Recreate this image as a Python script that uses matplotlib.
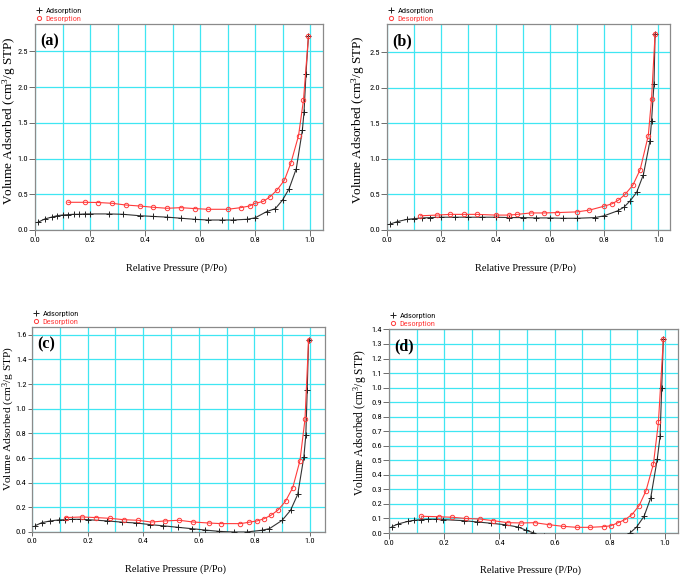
import matplotlib
matplotlib.use("Agg")
import matplotlib.pyplot as plt
from matplotlib.lines import Line2D
from matplotlib.ticker import MultipleLocator, FormatStrFormatter
from matplotlib import font_manager as fm

# ---------------- data ----------------
ads_a_x = [0.01, 0.036, 0.06, 0.08, 0.10, 0.12, 0.14, 0.16, 0.18, 0.20, 0.27, 0.32, 0.38, 0.43, 0.48,
           0.53, 0.58, 0.63, 0.68, 0.72, 0.77, 0.80, 0.842, 0.874, 0.90, 0.924, 0.95, 0.972, 0.978, 0.985, 0.994]
ads_a_y = [0.107, 0.155, 0.18, 0.20, 0.21, 0.215, 0.22, 0.22, 0.225, 0.225, 0.225, 0.22, 0.20, 0.19, 0.18,
           0.165, 0.15, 0.14, 0.14, 0.14, 0.15, 0.17, 0.257, 0.30, 0.42, 0.58, 0.86, 1.40, 1.65, 2.18, 2.71]
des_a_x = [0.12, 0.18, 0.23, 0.28, 0.33, 0.38, 0.43, 0.48, 0.53, 0.58, 0.63, 0.70, 0.748, 0.78, 0.80,
           0.83, 0.855, 0.88, 0.907, 0.93, 0.958, 0.976, 0.994]
des_a_y = [0.388, 0.388, 0.385, 0.374, 0.35, 0.336, 0.318, 0.304, 0.313, 0.30, 0.29, 0.29, 0.313, 0.336,
           0.374, 0.40, 0.467, 0.56, 0.70, 0.935, 1.32, 1.82, 2.71]

ads_b_x = [0.012, 0.037, 0.074, 0.10, 0.13, 0.16, 0.20, 0.25, 0.30, 0.35, 0.40, 0.45, 0.50, 0.55, 0.60,
           0.65, 0.70, 0.767, 0.80, 0.85, 0.873, 0.896, 0.92, 0.945, 0.969, 0.975, 0.984, 0.988]
ads_b_y = [0.084, 0.117, 0.15, 0.16, 0.17, 0.175, 0.18, 0.18, 0.18, 0.18, 0.18, 0.175, 0.175, 0.17, 0.17,
           0.165, 0.165, 0.175, 0.20, 0.27, 0.32, 0.41, 0.53, 0.78, 1.25, 1.54, 2.06, 2.76]
des_b_x = [0.123, 0.184, 0.233, 0.282, 0.33, 0.40, 0.45, 0.48, 0.53, 0.577, 0.626, 0.70, 0.746, 0.80,
           0.83, 0.853, 0.877, 0.906, 0.933, 0.963, 0.975, 0.988]
des_b_y = [0.20, 0.21, 0.22, 0.22, 0.22, 0.21, 0.21, 0.22, 0.24, 0.24, 0.245, 0.255, 0.28, 0.335,
           0.37, 0.42, 0.50, 0.63, 0.85, 1.33, 1.85, 2.76]

ads_c_x = [0.012, 0.036, 0.066, 0.096, 0.12, 0.144, 0.174, 0.20, 0.27, 0.323, 0.375, 0.425, 0.473, 0.525,
           0.575, 0.623, 0.674, 0.725, 0.772, 0.826, 0.854, 0.90, 0.93, 0.956, 0.978, 0.985, 0.99, 0.995]
ads_c_y = [0.052, 0.076, 0.09, 0.098, 0.10, 0.103, 0.103, 0.10, 0.09, 0.08, 0.073, 0.06, 0.05, 0.038,
           0.027, 0.016, 0.005, 0.0, 0.0, 0.014, 0.027, 0.095, 0.176, 0.306, 0.61, 0.786, 1.15, 1.56]
des_c_x = [0.121, 0.18, 0.23, 0.28, 0.33, 0.38, 0.43, 0.48, 0.53, 0.58, 0.635, 0.68, 0.75, 0.78, 0.81,
           0.835, 0.86, 0.886, 0.912, 0.938, 0.964, 0.982, 0.995]
des_c_y = [0.117, 0.122, 0.117, 0.111, 0.10, 0.095, 0.081, 0.09, 0.095, 0.081, 0.073, 0.068, 0.068,
           0.079, 0.09, 0.108, 0.136, 0.18, 0.25, 0.36, 0.58, 0.914, 1.56]

ads_d_x = [0.011, 0.033, 0.069, 0.09, 0.117, 0.14, 0.17, 0.196, 0.27, 0.32, 0.37, 0.42, 0.468, 0.498,
           0.52, 0.56, 0.65, 0.75, 0.84, 0.873, 0.897, 0.924, 0.948, 0.972, 0.982, 0.988, 0.994]
ads_d_y = [0.044, 0.062, 0.08, 0.087, 0.092, 0.094, 0.094, 0.092, 0.085, 0.076, 0.067, 0.057, 0.041,
           0.018, 0.003, -0.02, -0.06, -0.07, -0.04, 0.0, 0.041, 0.115, 0.24, 0.51, 0.665, 1.0, 1.336]
des_d_x = [0.117, 0.18, 0.23, 0.278, 0.33, 0.377, 0.43, 0.48, 0.528, 0.58, 0.63, 0.68, 0.728, 0.78,
           0.804, 0.828, 0.855, 0.88, 0.906, 0.931, 0.958, 0.976, 0.994]
des_d_y = [0.115, 0.112, 0.108, 0.10, 0.096, 0.085, 0.071, 0.069, 0.071, 0.057, 0.046, 0.039, 0.039,
           0.044, 0.05, 0.069, 0.092, 0.126, 0.188, 0.29, 0.475, 0.76, 1.336]

panel_labels = ["(a)", "(b)", "(c)", "(d)"]
legend_labels = ["Adsorption", "Desorption"]
xlabel_text = "Relative Pressure (P/Po)"
ylabel_text = "Volume Adsorbed (cm$^3$/g STP)"

# ---------------- fonts ----------------
_names = {f.name for f in fm.fontManager.ttflist}
_narrow = [n for n in ["Liberation Sans Narrow", "Arial Narrow", "DejaVu Sans Condensed",
                       "Roboto Condensed", "Open Sans Condensed"] if n in _names]
tick_font = _narrow[:1] + ["Liberation Sans", "DejaVu Sans"]
serif = ["Liberation Serif", "DejaVu Serif"]
plt.rcParams["mathtext.fontset"] = "custom"
plt.rcParams["mathtext.rm"] = "Liberation Serif"
plt.rcParams["mathtext.it"] = "Liberation Serif:italic"

# ---------------- layout ----------------
W, H = 685, 578
fig = plt.figure(figsize=(W / 100, H / 100), dpi=100)

def rect(l, t, r, b):
    return [l / W, 1 - b / H, (r - l) / W, (b - t) / H]

panels = [
    dict(r=rect(35, 24, 323, 230), xmax=1.047, ymax=2.885, ystep=0.5, ylx=-0.06, yly=0.53, yfs=9.5, tl=4,
         ax_=ads_a_x, ay=ads_a_y, dx=des_a_x, dy=des_a_y),
    dict(r=rect(387, 24, 670, 230), xmax=1.043, ymax=2.90, ystep=0.5, ylx=-0.07, yly=0.536, yfs=9.5, tl=4,
         ax_=ads_b_x, ay=ads_b_y, dx=des_b_x, dy=des_b_y),
    dict(r=rect(32, 327, 325, 532), xmax=1.054, ymax=1.663, ystep=0.2, ylx=-0.052, yly=0.556, yfs=8.2, tl=3,
         ax_=ads_c_x, ay=ads_c_y, dx=des_c_x, dy=des_c_y),
    dict(r=rect(389, 329, 678, 533), xmax=1.047, ymax=1.403, ystep=0.1, ylx=-0.07, yly=0.54, yfs=8.3, tl=4,
         ax_=ads_d_x, ay=ads_d_y, dx=des_d_x, dy=des_d_y),
]

grid_c = "#3fe6f2"
red = "#ff3b3b"

for i, p in enumerate(panels):
    ax = fig.add_axes(p["r"])
    ax.plot(p["ax_"], p["ay"], color="#333333", lw=0.8, marker="+", ms=4.5, mew=0.7,
            mec="#222222", zorder=3)
    ax.plot(p["dx"], p["dy"], color=red, lw=0.8, marker="o", ms=3.2, mew=0.7,
            mfc="none", mec=red, zorder=4)
    ax.set_xlim(0, p["xmax"])
    ax.set_ylim(0, p["ymax"])
    ax.xaxis.set_major_locator(MultipleLocator(0.2))
    ax.xaxis.set_minor_locator(MultipleLocator(0.1))
    ax.yaxis.set_major_locator(MultipleLocator(p["ystep"]))
    ax.grid(True, which="both", axis="x", color=grid_c, lw=0.9)
    ax.grid(True, which="major", axis="y", color=grid_c, lw=0.9)
    ax.set_axisbelow(True)
    ax.tick_params(axis="both", which="major", direction="out", length=p["tl"], width=0.6,
                   color="#555555", labelsize=6.0, pad=1)
    ax.tick_params(axis="x", which="minor", length=0)
    ax.xaxis.set_major_formatter(FormatStrFormatter("%.1f"))
    ax.yaxis.set_major_formatter(FormatStrFormatter("%.1f"))
    for lab in ax.get_xticklabels() + ax.get_yticklabels():
        lab.set_family(tick_font)
    for sp in ax.spines.values():
        sp.set_color("#8a8a8a")
        sp.set_linewidth(0.9)
    ax.set_xlabel(xlabel_text, family=serif, fontsize=7.5)
    ax.xaxis.set_label_coords(0.49, -0.16)
    ax.set_ylabel(ylabel_text, family=serif, fontsize=p["yfs"])
    ax.yaxis.set_label_coords(p["ylx"], p["yly"])
    ax.text(0.017, 0.955, panel_labels[i], transform=ax.transAxes, ha="left", va="top",
            family=serif, fontsize=11.5, fontweight="bold")
    handles = [Line2D([], [], ls="none", marker="+", ms=4, mew=0.7, color="#222222"),
               Line2D([], [], ls="none", marker="o", ms=3, mew=0.7, mfc="none", mec=red, color=red)]
    leg = ax.legend(handles, legend_labels, loc="lower left", bbox_to_anchor=(0.0, 1.0),
                    frameon=False, handlelength=0.6, handletextpad=0.5, labelspacing=0.15,
                    borderpad=0.1, borderaxespad=0.1,
                    prop={"family": tick_font, "size": 6})
    for t, c in zip(leg.get_texts(), ["#111111", red]):
        t.set_color(c)

fig.savefig("out.png", dpi=100)
